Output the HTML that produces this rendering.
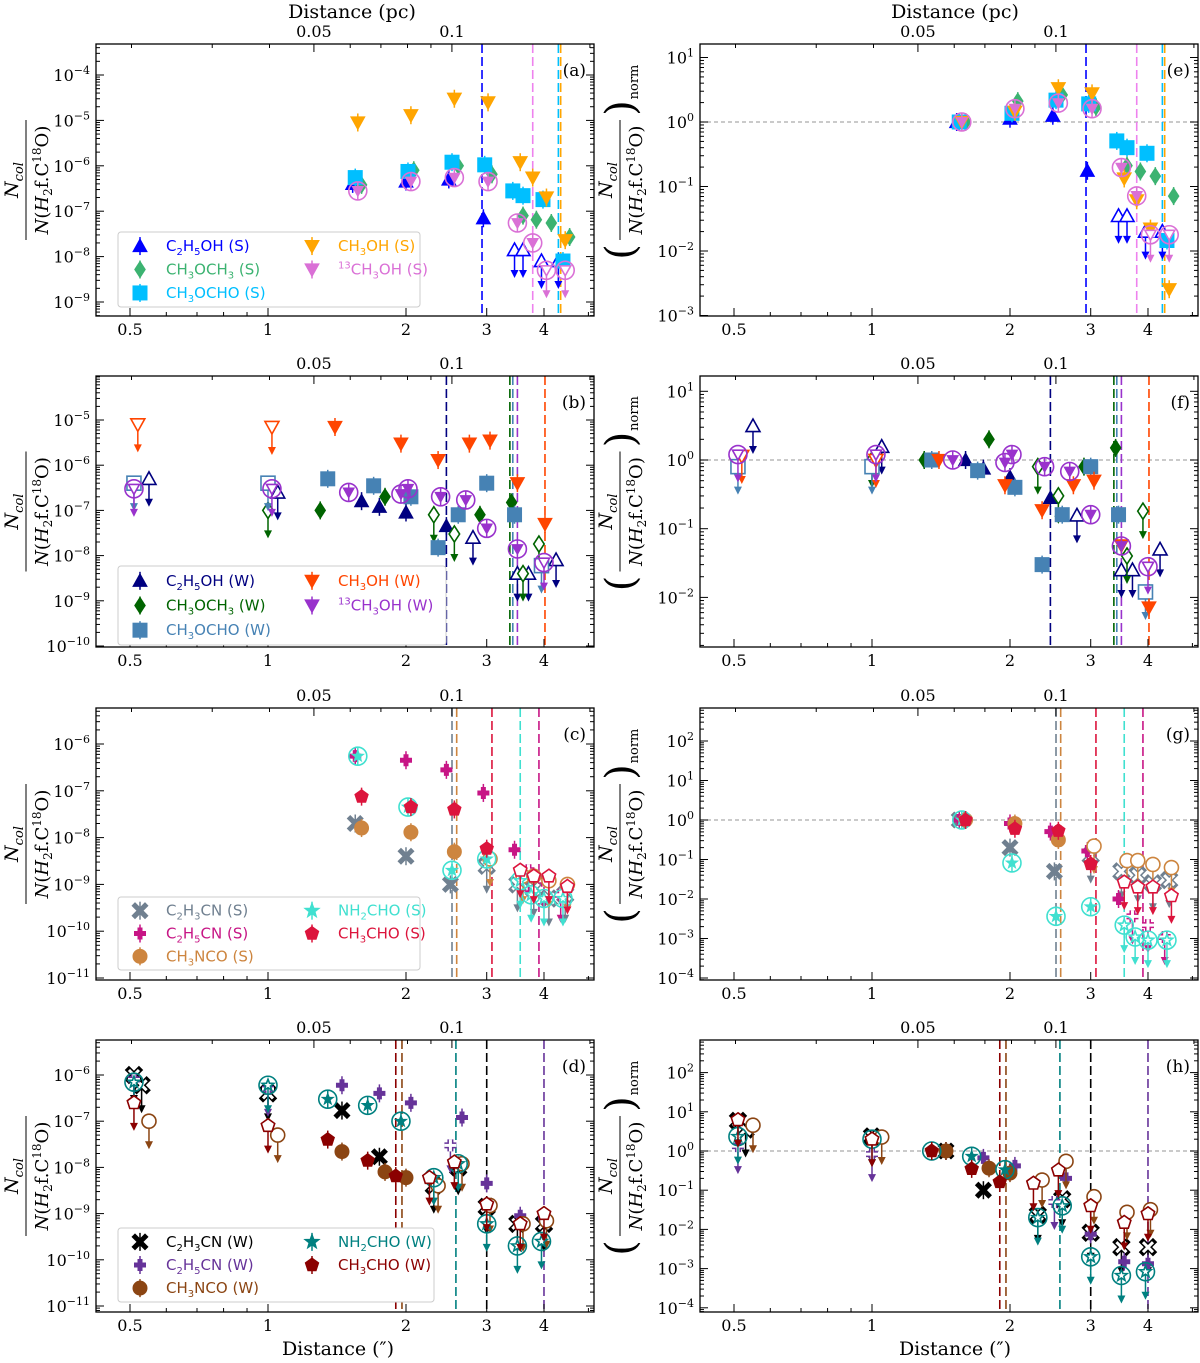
<!DOCTYPE html>
<html><head><meta charset="utf-8"><style>
html,body{margin:0;padding:0;background:#fff;}
svg{display:block;}
text{font-family:"DejaVu Serif","Liberation Serif",serif;}
.lg{font-family:"DejaVu Sans","Liberation Sans",sans-serif;font-size:15px;}
</style></head><body>
<svg id="fig" width="1200" height="1363" viewBox="0 0 1200 1363" xmlns="http://www.w3.org/2000/svg"></svg>
<script>
// ---------- DATA (distance in arcsec, column density ratio; ul=1 means upper limit) ----------
const a_C2H5OH_x=[1.53,2.0,2.48,2.95,3.45,3.6,3.95,4.3];
const a_C2H5OH_y=[4e-7,4.5e-7,5e-7,7e-8,1.4e-8,1.4e-8,8e-9,8e-9];
const a_C2H5OH_ul=[0,0,0,0,1,1,1,1];
const a_CH3OCH3_x=[1.6,2.08,2.6,3.08,3.6,3.85,4.15,4.55];
const a_CH3OCH3_y=[3.8e-7,8e-7,1e-6,6.5e-7,8e-8,6.5e-8,5.5e-8,2.7e-8];
const a_CH3OCH3_ul=[0,0,0,0,0,0,0,0];
const a_CH3OCHO_x=[1.55,2.02,2.52,2.97,3.42,3.6,3.98,4.4];
const a_CH3OCHO_y=[5.5e-7,7.5e-7,1.2e-6,1.05e-6,2.8e-7,2.2e-7,1.8e-7,8e-9];
const a_CH3OCHO_ul=[0,0,0,0,0,0,0,0];
const a_CH3OH_x=[1.57,2.05,2.55,3.02,3.55,3.78,4.05,4.45];
const a_CH3OH_y=[9e-6,1.3e-5,3e-5,2.5e-5,1.2e-6,5.5e-7,2e-7,2.3e-8];
const a_CH3OH_ul=[0,0,0,0,0,0,0,0];
const a_13CH3OH_x=[1.57,2.05,2.55,3.02,3.5,3.78,4.05,4.45];
const a_13CH3OH_y=[2.8e-7,4.5e-7,5.5e-7,4.5e-7,5.5e-8,2e-8,5e-9,5e-9];
const a_13CH3OH_ul=[0,0,0,0,0,0,1,1];
const a_vlines_x=[2.93,3.78,4.3,4.35];
const b_C2H5OH_x=[0.55,1.05,1.6,1.75,2.0,2.45,2.8,3.5,3.7,4.25];
const b_C2H5OH_y=[5e-7,2.5e-7,1.6e-7,1.2e-7,9e-8,4.5e-8,2.5e-8,4e-9,4e-9,8e-9];
const b_C2H5OH_ul=[1,1,0,0,0,0,1,1,1,1];
const b_CH3OCH3_x=[1.0,1.3,1.8,2.3,2.55,2.9,3.4,3.6,3.9];
const b_CH3OCH3_y=[1e-7,1e-7,2e-7,8e-8,3e-8,8e-8,1.5e-7,4e-9,1.8e-8];
const b_CH3OCH3_ul=[1,0,0,1,1,0,0,1,1];
const b_CH3OCHO_x=[0.51,1.0,1.35,1.7,2.05,2.35,2.6,3.0,3.45,3.95];
const b_CH3OCHO_y=[4e-7,4e-7,5e-7,3.5e-7,2e-7,1.5e-8,8e-8,4e-7,8e-8,6e-9];
const b_CH3OCHO_ul=[1,1,0,0,0,0,0,0,0,1];
const b_CH3OH_x=[0.52,1.02,1.4,1.95,2.35,2.75,3.05,3.5,4.02];
const b_CH3OH_y=[8e-6,7e-6,7e-6,3e-6,1.3e-6,3e-6,3.5e-6,4e-7,5e-8];
const b_CH3OH_ul=[1,1,0,0,0,0,0,0,0];
const b_13CH3OH_x=[0.51,1.02,1.5,1.95,2.02,2.38,2.7,3.0,3.5,4.0];
const b_13CH3OH_y=[3e-7,3e-7,2.5e-7,2.3e-7,3e-7,2e-7,1.7e-7,4e-8,1.4e-8,7e-9];
const b_13CH3OH_ul=[1,1,0,0,0,0,0,0,0,1];
const b_vlines_x=[2.45,3.37,3.42,3.5,4.02];
const c_C2H3CN_x=[1.55,2.0,2.5,3.0,3.5,3.8,4.1,4.45];
const c_C2H3CN_y=[2e-8,4e-9,1e-9,2.5e-9,1e-9,8e-10,5e-10,6e-10];
const c_C2H3CN_ul=[0,0,0,1,1,1,1,1];
const c_C2H5CN_x=[1.55,2.0,2.45,2.95,3.45,3.7,4.0,4.35];
const c_C2H5CN_y=[5.5e-7,4.5e-7,2.8e-7,9e-8,5.5e-9,2e-9,1.2e-9,6e-10];
const c_C2H5CN_ul=[0,0,0,0,0,1,1,1];
const c_CH3NCO_x=[1.6,2.05,2.55,3.05,3.6,3.8,4.1,4.5];
const c_CH3NCO_y=[1.6e-8,1.3e-8,5e-9,3.5e-9,1.5e-9,1.5e-9,1.2e-9,1e-9];
const c_CH3NCO_ul=[0,0,0,1,1,1,1,1];
const c_NH2CHO_x=[1.57,2.02,2.52,3.0,3.55,3.75,4.0,4.4];
const c_NH2CHO_y=[5.5e-7,4.5e-8,2e-9,3.5e-9,1.2e-9,6e-10,5e-10,5e-10];
const c_NH2CHO_ul=[0,0,0,0,1,1,1,1];
const c_CH3CHO_x=[1.6,2.05,2.55,3.0,3.55,3.8,4.1,4.5];
const c_CH3CHO_y=[7.5e-8,4.5e-8,4e-8,5.8e-9,2e-9,1.5e-9,1.5e-9,9e-10];
const c_CH3CHO_ul=[0,0,0,0,1,1,1,1];
const c_vlines_x=[2.52,2.58,3.08,3.55,3.9];
const d_C2H3CN_x=[0.51,0.53,1.0,1.45,1.75,2.3,2.6,3.0,3.5,4.0];
const d_C2H3CN_y=[1e-6,6e-7,4e-7,1.7e-7,1.7e-8,4e-9,1e-8,1.4e-9,6e-10,6e-10];
const d_C2H3CN_ul=[1,1,1,0,0,1,1,1,1,1];
const d_C2H5CN_x=[0.51,1.0,1.45,1.75,2.05,2.5,2.65,3.0,3.55,4.0];
const d_C2H5CN_y=[8e-7,5e-7,6e-7,4e-7,2.5e-7,3e-8,1.2e-7,4.5e-9,9e-10,8e-10];
const d_C2H5CN_ul=[1,1,0,0,0,1,0,0,0,0];
const d_CH3NCO_x=[0.55,1.05,1.45,1.8,2.0,2.35,2.65,3.05,3.6,4.05];
const d_CH3NCO_y=[1e-7,5e-8,2.2e-8,8e-9,6e-9,4e-9,1.2e-8,1.5e-9,6e-10,7e-10];
const d_CH3NCO_ul=[1,1,0,0,0,1,1,1,1,1];
const d_NH2CHO_x=[0.51,1.0,1.35,1.65,1.95,2.3,2.6,3.0,3.5,3.95];
const d_NH2CHO_y=[7e-7,6e-7,3e-7,2.2e-7,1e-7,6e-9,1.2e-8,6e-10,2e-10,2.5e-10];
const d_NH2CHO_ul=[1,1,0,0,0,1,1,1,1,1];
const d_CH3CHO_x=[0.51,1.0,1.35,1.65,1.9,2.25,2.55,3.0,3.55,4.0];
const d_CH3CHO_y=[2.5e-7,8e-8,4e-8,1.4e-8,6.5e-9,6e-9,1.3e-8,1.6e-9,6e-10,1e-9];
const d_CH3CHO_ul=[1,1,0,0,0,1,1,1,1,1];
const d_vlines_x=[1.9,1.96,2.57,3.0,4.0];
const xTickLabels=[0.5,1,2,3,4];
const pcTickLabels=[0.05,0.1];

// ---------- DRAWING ----------
const NS="http://www.w3.org/2000/svg";
const svg=document.getElementById('fig');
function el(tag,attrs,parent){const e=document.createElementNS(NS,tag);for(const k in attrs)e.setAttribute(k,attrs[k]);(parent||svg).appendChild(e);return e;}
const PXDEC=458.4, PC_PER_AS=0.0397;
const rows=[[44,316],[376,647],[708,980],[1040,1312]];
function xs(d,col){return 268+PXDEC*Math.log10(d)+col*604;}

function sub(s){
  // build tspans: each char gets a tspan with proper dy relative to previous shift
  let out='';let cur=0;let i=0;
  const put=(txt,shift,fs)=>{const dy=shift-cur;cur=shift;out+=`<tspan dy="${dy}"${fs?` font-size="${fs}"`:''}>${txt}</tspan>`;};
  if(s.startsWith('13')){put('13',-6,10);i=2;}
  for(;i<s.length;i++){const c=s[i];
    if(/[0-9]/.test(c)&&i>0&&/[A-Za-z]/.test(s[i-1]))put(c,4,10);
    else put(c,0,null);}
  return out;}

function marker(g,type,cx,cy,col,open,circ){
  const s=7, fill=open?'#fff':col, sw=open?1.6:1;
  if(circ){el('circle',{cx,cy,r:9,fill:'none',stroke:col,'stroke-width':1.6},g);}
  const ss=circ?5.5:s;
  let p;
  switch(type){
    case 'tu':p=`${cx},${cy-ss} ${cx+ss},${cy+ss*0.8} ${cx-ss},${cy+ss*0.8}`;el('polygon',{points:p,fill,stroke:col,'stroke-width':sw},g);break;
    case 'td':p=`${cx},${cy+ss} ${cx+ss},${cy-ss*0.8} ${cx-ss},${cy-ss*0.8}`;el('polygon',{points:p,fill,stroke:col,'stroke-width':sw},g);break;
    case 'di':p=`${cx},${cy-ss*1.15} ${cx+ss*0.75},${cy} ${cx},${cy+ss*1.15} ${cx-ss*0.75},${cy}`;el('polygon',{points:p,fill,stroke:col,'stroke-width':sw},g);break;
    case 'sq':el('rect',{x:cx-ss,y:cy-ss,width:2*ss,height:2*ss,fill,stroke:col,'stroke-width':sw},g);break;
    case 'ci':el('circle',{cx,cy,r:ss,fill,stroke:col,'stroke-width':sw},g);break;
    case 'x':{const d=`M${cx-5},${cy-5}L${cx+5},${cy+5}M${cx-5},${cy+5}L${cx+5},${cy-5}`;
      if(open){el('path',{d,stroke:col,'stroke-width':6,'stroke-linecap':'square'},g);el('path',{d,stroke:'#fff','stroke-width':3},g);}
      else el('path',{d,stroke:col,'stroke-width':5,'stroke-linecap':'square'},g);break;}
    case 'pl':{const d=`M${cx-6},${cy}L${cx+6},${cy}M${cx},${cy-6}L${cx},${cy+6}`;
      if(open){el('path',{d,stroke:col,'stroke-width':6},g);el('path',{d,stroke:'#fff','stroke-width':3},g);}
      else el('path',{d,stroke:col,'stroke-width':5},g);break;}
    case 'st':{let pts=[];for(let k=0;k<10;k++){const r=k%2?ss*0.45:ss*1.1,a=-Math.PI/2+k*Math.PI/5;pts.push((cx+r*Math.cos(a)).toFixed(1)+','+(cy+r*Math.sin(a)).toFixed(1));}
      el('polygon',{points:pts.join(' '),fill,stroke:col,'stroke-width':sw},g);break;}
    case 'pe':{let pts=[];for(let k=0;k<5;k++){const a=-Math.PI/2+k*2*Math.PI/5;pts.push((cx+ss*Math.cos(a)).toFixed(1)+','+(cy+ss*Math.sin(a)).toFixed(1));}
      el('polygon',{points:pts.join(' '),fill,stroke:col,'stroke-width':sw},g);break;}
  }
}
function arrowDown(g,cx,cy,col){
  el('line',{x1:cx,y1:cy,x2:cx,y2:cy+26,stroke:col,'stroke-width':1.5},g);
  el('polygon',{points:`${cx-4},${cy+20} ${cx+4},${cy+20} ${cx},${cy+28}`,fill:col},g);
}

const groups={
 a:{row:0,ref:[-4,75,45.4],nref:[0,122,64.5],dec:[-9,-4],ndec:[-3,1],label:['(a)','(e)'],
    series:[['C2H5OH (S)','tu','#0000ff',a_C2H5OH_x,a_C2H5OH_y,a_C2H5OH_ul,0],
            ['CH3OCH3 (S)','di','#3cb371',a_CH3OCH3_x,a_CH3OCH3_y,a_CH3OCH3_ul,0],
            ['CH3OCHO (S)','sq','#00bfff',a_CH3OCHO_x,a_CH3OCHO_y,a_CH3OCHO_ul,0],
            ['CH3OH (S)','td','#ffa500',a_CH3OH_x,a_CH3OH_y,a_CH3OH_ul,0],
            ['13CH3OH (S)','td','#da70d6',a_13CH3OH_x,a_13CH3OH_y,a_13CH3OH_ul,1]],
    vl:a_vlines_x,vcol:['#0000ff','#ee82ee','#00bfff','#ffa500'],leg:[118,232,420,307]},
 b:{row:1,ref:[-5,420,45.2],nref:[0,460,68.7],dec:[-10,-5],ndec:[-2,1],label:['(b)','(f)'],
    series:[['C2H5OH (W)','tu','#000080',b_C2H5OH_x,b_C2H5OH_y,b_C2H5OH_ul,0],
            ['CH3OCH3 (W)','di','#006400',b_CH3OCH3_x,b_CH3OCH3_y,b_CH3OCH3_ul,0],
            ['CH3OCHO (W)','sq','#4682b4',b_CH3OCHO_x,b_CH3OCHO_y,b_CH3OCHO_ul,0],
            ['CH3OH (W)','td','#ff4500',b_CH3OH_x,b_CH3OH_y,b_CH3OH_ul,0],
            ['13CH3OH (W)','td','#9932cc',b_13CH3OH_x,b_13CH3OH_y,b_13CH3OH_ul,1]],
    vl:b_vlines_x,vcol:['#000080','#006400','#4682b4','#9932cc','#ff4500'],leg:[118,566,446,645]},
 c:{row:2,ref:[-6,744,46.8],nref:[0,820,39.5],dec:[-11,-6],ndec:[-4,2],label:['(c)','(g)'],
    series:[['C2H3CN (S)','x','#708090',c_C2H3CN_x,c_C2H3CN_y,c_C2H3CN_ul,0],
            ['C2H5CN (S)','pl','#c71585',c_C2H5CN_x,c_C2H5CN_y,c_C2H5CN_ul,0],
            ['CH3NCO (S)','ci','#cd853f',c_CH3NCO_x,c_CH3NCO_y,c_CH3NCO_ul,0],
            ['NH2CHO (S)','st','#40e0d0',c_NH2CHO_x,c_NH2CHO_y,c_NH2CHO_ul,1],
            ['CH3CHO (S)','pe','#dc143c',c_CH3CHO_x,c_CH3CHO_y,c_CH3CHO_ul,0]],
    vl:c_vlines_x,vcol:['#708090','#cd853f','#dc143c','#40e0d0','#c71585'],leg:[118,897,420,970]},
 d:{row:3,ref:[-6,1075,46.2],nref:[0,1151,39.2],dec:[-11,-6],ndec:[-4,2],label:['(d)','(h)'],
    series:[['C2H3CN (W)','x','#000000',d_C2H3CN_x,d_C2H3CN_y,d_C2H3CN_ul,0],
            ['C2H5CN (W)','pl','#663399',d_C2H5CN_x,d_C2H5CN_y,d_C2H5CN_ul,0],
            ['CH3NCO (W)','ci','#8b4513',d_CH3NCO_x,d_CH3NCO_y,d_CH3NCO_ul,0],
            ['NH2CHO (W)','st','#008080',d_NH2CHO_x,d_NH2CHO_y,d_NH2CHO_ul,1],
            ['CH3CHO (W)','pe','#8b0000',d_CH3CHO_x,d_CH3CHO_y,d_CH3CHO_ul,0]],
    vl:d_vlines_x,vcol:['#8b0000','#8b4513','#008080','#000000','#663399'],leg:[118,1228,434,1302]}
};

function drawPanel(key,col){
  const G=groups[key];const [top,bot]=rows[G.row];const x0=96+col*604,x1=594+col*604;
  const ref=col?G.nref:G.ref;const dec=col?G.ndec:G.dec;
  const ys=v=>ref[1]-(Math.log10(v)-ref[0])*ref[2];
  const pid=key+col;
  const g=el('g',{});
  
  
  const cp=el('clipPath',{id:'cp'+pid},g);el('rect',{x:x0,y:top,width:x1-x0,height:bot-top},cp);
  if(col){const l=el('line',{x1:x0,x2:x1,y1:ys(1),y2:ys(1),stroke:'#aaa','stroke-dasharray':'4,3','stroke-width':1.2},g);
    }
  G.vl.forEach((v,i)=>{const l=el('line',{x1:xs(v,col),x2:xs(v,col),y1:top,y2:bot,stroke:G.vcol[i%G.vcol.length],'stroke-dasharray':'9,4','stroke-width':1.6},g);
    });
  const dg=el('g',{'clip-path':`url(#cp${pid})`},g);
  G.series.forEach(s=>{const [name,type,c,X,Y,U,circ]=s;
    let norm=1;if(col){const k=U.indexOf(0);norm=Y[k>=0?k:0];}
    const sg=el('g',{},dg);
    
    
    X.forEach((xv,i)=>{const cx=xs(xv,col),cy=ys(Y[i]/norm);
      if(U[i])arrowDown(sg,cx,cy,c);
      else el('line',{x1:cx,x2:cx,y1:cy-9,y2:cy+9,stroke:c,'stroke-width':1.5},sg);
      marker(sg,type,cx,cy,c,!!U[i],circ);});
  });
  el('rect',{x:x0,y:top,width:x1-x0,height:bot-top,fill:'none',stroke:'#000','stroke-width':1.3},g);
  for(let k=-1;k<=0;k++)for(let m=1;m<10;m++){const d=m*Math.pow(10,k);if(d<0.45||d>5)continue;
    const xx=xs(d,col);if(xx<x0||xx>x1)continue;const maj=xTickLabels.includes(+d.toFixed(2));const L=maj?8:4;
    el('line',{x1:xx,x2:xx,y1:bot,y2:bot-L,stroke:'#000'},g);}
  xTickLabels.forEach(t=>{const tx=el('text',{x:xs(t,col),y:bot+19,'font-size':16,'text-anchor':'middle'},g);tx.textContent=t;});
  [0.02,0.03,0.04,0.05,0.06,0.07,0.08,0.09,0.1,0.2].forEach(p=>{const xx=xs(p/PC_PER_AS,col);if(xx<x0||xx>x1)return;
    const maj=pcTickLabels.includes(p);el('line',{x1:xx,x2:xx,y1:top,y2:top+(maj?8:4),stroke:'#000'},g);});
  pcTickLabels.forEach(p=>{const tx=el('text',{x:xs(p/PC_PER_AS,col),y:top-7,'font-size':16,'text-anchor':'middle'},g);tx.textContent=p;});
  for(let e=dec[0]-1;e<=dec[1]+1;e++){for(let m=1;m<10;m++){const yy=ref[1]-(e+Math.log10(m)-ref[0])*ref[2];
      if(yy<top||yy>bot)continue;const L=m==1?8:4;
      el('line',{x1:x0,x2:x0+L,y1:yy,y2:yy,stroke:'#000'},g);el('line',{x1:x1,x2:x1-L,y1:yy,y2:yy,stroke:'#000'},g);}
    const yy=ref[1]-(e-ref[0])*ref[2];
    if(yy>=top-1&&yy<=bot+1){const t=el('text',{x:x0-6,y:yy+6,'font-size':16,'text-anchor':'end'},g);
      t.innerHTML='10<tspan font-size="11" dy="-7">'+e.toString().replace('-','\u2212')+'</tspan>';}}
  const pl=el('text',{x:x1-8,y:top+32,'font-size':17,'text-anchor':'end'},g);pl.textContent=G.label[col];
  const cy=(top+bot)/2, ax=col?x0-80:x0-70;
  const yt=el('g',{transform:`translate(${ax},${cy}) rotate(-90)`},g);
  
  const t1=el('text',{x:0,y:-8,'font-size':19,'text-anchor':'middle','font-style':'italic'},yt);t1.innerHTML='N<tspan font-size="13" dy="5">col</tspan>';
  el('line',{x1:-60,x2:60,y1:0,y2:0,stroke:'#000','stroke-width':1},yt);
  const t2=el('text',{x:0,y:22,'font-size':18,'text-anchor':'middle'},yt);
  t2.innerHTML='<tspan font-style="italic">N</tspan>(<tspan font-style="italic">H</tspan><tspan font-size="12" dy="4">2</tspan><tspan dy="-4">f.C</tspan><tspan font-size="12" dy="-7">18</tspan><tspan dy="7">O)</tspan>';
  if(col){const lp=el('text',{x:-72,y:14,'font-size':40,'text-anchor':'middle'},yt);lp.textContent='(';
    const rp=el('text',{x:72,y:14,'font-size':40,'text-anchor':'middle'},yt);rp.textContent=')';
    const nm=el('text',{x:98,y:18,'font-size':13,'text-anchor':'middle'},yt);nm.textContent='norm';}
  if(!col){const [lx0,ly0,lx1,ly1]=G.leg;const lg=el('g',{},g);
    
    el('rect',{x:lx0,y:ly0,width:lx1-lx0,height:ly1-ly0,fill:'#fff',stroke:'#ccc','stroke-width':1,rx:3},lg);
    const rh=(ly1-ly0)/3.2;
    G.series.forEach((s,i)=>{const colI=i<3?0:1,rowI=i<3?i:i-3;const mx=lx0+22+colI*172,my=ly0+rh*0.6+rowI*rh;
      const eg=el('g',{},lg);
      el('line',{x1:mx,x2:mx,y1:my-9,y2:my+9,stroke:s[2],'stroke-width':1.5},eg);
      marker(eg,s[1],mx,my,s[2],false,0);
      const t=el('text',{x:mx+26,y:my+5,fill:s[2],class:'lg'},eg);t.innerHTML=sub(s[0]);});}
}
['a','b','c','d'].forEach(k=>{drawPanel(k,0);drawPanel(k,1);});
[0,1].forEach(c=>{const t=el('text',{x:c?955:352,y:18,'font-size':19,'text-anchor':'middle'});t.textContent='Distance (pc)';
  
  const b=el('text',{x:c?955:338,y:1355,'font-size':19,'text-anchor':'middle'});b.textContent='Distance (\u2033)';
  });
</script>
</body></html>
